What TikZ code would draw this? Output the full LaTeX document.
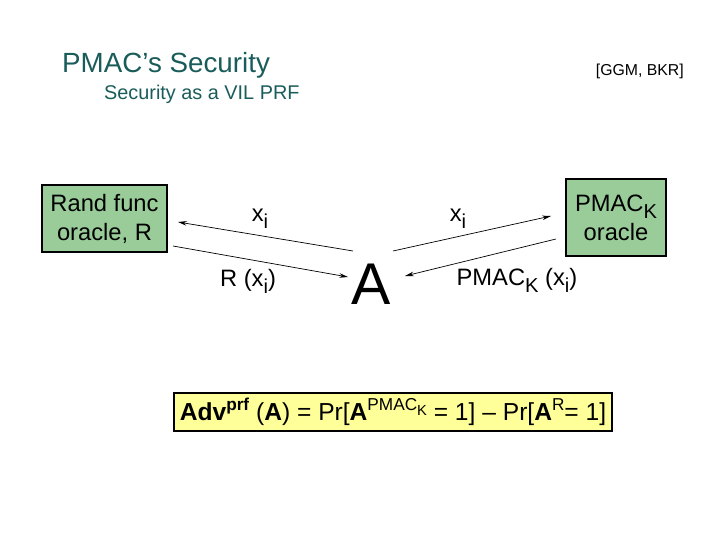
\documentclass[tikz,border=0pt]{standalone}
\usepackage{fontspec}
\setmainfont{Liberation Sans}
\usepackage{graphicx}
\usepackage{xcolor}
\usetikzlibrary{arrows.meta}
\definecolor{titleteal}{RGB}{25,92,90}
\definecolor{oraclegreen}{RGB}{153,204,153}
\definecolor{advyellow}{RGB}{255,255,153}
\newcommand\lowr[1]{\raisebox{-.55ex}{\scalebox{.85}{#1}}}
\newcommand\highr[1]{\raisebox{.75ex}{\scalebox{.7}{#1}}}
\newcommand\xsub{x\lowr{i}}

\begin{document}
\begin{tikzpicture}[x=0.02cm,y=-0.02cm,
    oracle/.style={draw=black,thick,fill=oraclegreen,align=center,inner sep=0pt,
        font=\fontsize{13.5}{16.5}\selectfont},
    lbl/.style={font=\fontsize{13.5}{16}\selectfont},
    msg/.style={thin,-{Stealth[length=5pt,width=2.6pt]}}]
    \useasboundingbox (0,0) rectangle (720,540);
    % header
    \node[anchor=west,text=titleteal,font=\fontsize{15.8}{18}\selectfont] (ttl) at (56,65) {PMAC’s Security};
    \node[anchor=west,text=titleteal,font=\fontsize{11.3}{13}\selectfont] (sub) at (98,94) {Security as a VIL PRF};
    \node[anchor=east,font=\fontsize{9}{11}\selectfont] (refs) at (690,71) {[GGM, BKR]};
    % oracles and adversary
    \node[oracle,minimum width=2.5cm,minimum height=1.34cm] (rnd) at (104.5,218.5) {Rand func\\oracle, R};
    \node[oracle,minimum width=2cm,minimum height=1.54cm] (pmac) at (616,217.5) {PMAC\lowr{K}\\oracle};
    \node[font=\fontsize{33.5}{38}\selectfont,inner sep=0pt] (adv) at (371,284) {A};
    % arrow ends
    \coordinate (l1a) at (353,251); \coordinate (l1b) at (178,222);
    \coordinate (l2a) at (173,246); \coordinate (l2b) at (348,277);
    \coordinate (r1a) at (393,251); \coordinate (r1b) at (551,216);
    \coordinate (r2a) at (556,239); \coordinate (r2b) at (405,276);
    \draw[msg] (l1a)--(l1b);
    \draw[msg] (l2a)--(l2b);
    \draw[msg] (r1a)--(r1b);
    \draw[msg] (r2a)--(r2b);
    \node[lbl] (qL) at (260,219) {\xsub};
    \node[lbl] (aL) at (248,281) {R (\xsub)};
    \node[lbl] (qR) at (458,219) {\xsub};
    \node[lbl] (aR) at (517,280) {PMAC\lowr{K} (\xsub)};
    % advantage
    \node[draw=black,thick,fill=advyellow,minimum width=8.76cm,minimum height=0.76cm,
        inner sep=0pt,font=\fontsize{14}{16}\selectfont] (advbox) at (393,412)
        {\textbf{Adv}\highr{\textbf{prf}} (\textbf{A}) = Pr[\textbf{A}\highr{PMAC\lowr{K}} = 1] – Pr[\textbf{A}\highr{R}= 1]};
\end{tikzpicture}
\end{document}
